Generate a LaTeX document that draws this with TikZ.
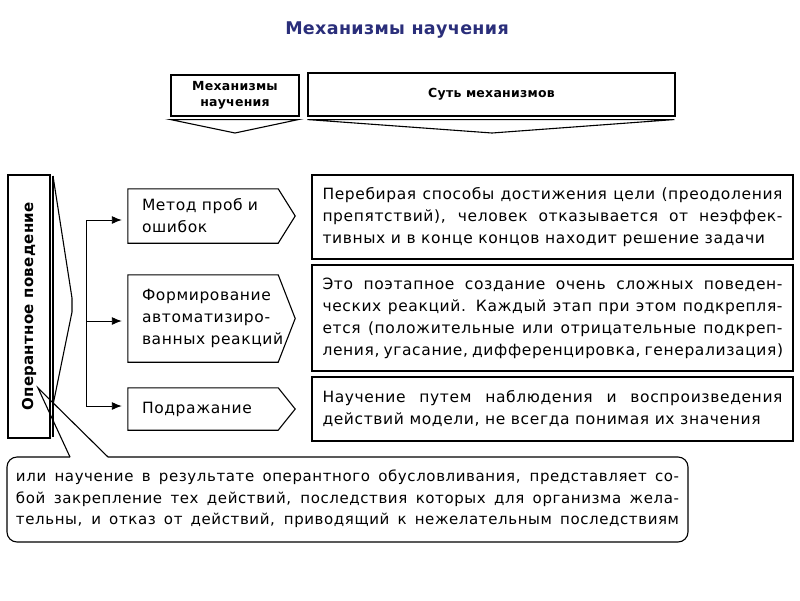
\documentclass[tikz,border=0pt]{standalone}
\usepackage{fontspec}
\setmainfont{DejaVu Sans}[LetterSpace=4]
\newfontfamily\headfont{DejaVu Sans}[LetterSpace=2]
\usetikzlibrary{arrows.meta,calc}
\definecolor{titleblue}{RGB}{42,46,122}
% justified lines of the text boxes
\newcommand\rline[1]{\makebox[460pt][s]{#1}}
\newcommand\bline[1]{\makebox[663pt][s]{#1}}
\tikzset{
  box/.style = {draw, line width=1.1pt},
  hdr/.style = {box, align=center, font=\headfont\bfseries\fontsize{12.5}{16.5}\selectfont},
  txt/.style = {align=left, inner sep=0pt, font=\fontsize{15.5}{22}\selectfont},
  midbox/.style = {txt, text width=122pt, inner xsep=14pt, minimum width=150pt},
  rbox/.style = {box, txt, inner xsep=10.5pt, minimum width=481pt},
  arr/.style = {-{Latex[length=10pt,width=8pt]}, line width=0.9pt}
}
\begin{document}
\begin{tikzpicture}[x=1pt, y=-1pt]
\fill[white] (0,0) rectangle (800,600);
\useasboundingbox (0,0) rectangle (800,600);

\node [font=\headfont\bfseries\fontsize{17.5}{22}\selectfont, text=titleblue] (title) at (397,30) {Механизмы научения};

% headers
\node [hdr, minimum width=128pt, minimum height=41pt] (h1) at (235,95.5) {Механизмы\\научения};
\node [hdr, minimum width=367pt, minimum height=43pt] (h2) at (491.5,94.5) {Суть механизмов};
\draw [line width=1.1pt] (h1.south west) ++(0,3) -- ++(128,0) -- (235,133) -- cycle;
\draw [line width=1.1pt] (h2.south west) ++(0,3) -- ++(367,0) -- (492,133) -- cycle;

% operant behaviour
\node [box, rotate=90, minimum width=263pt, minimum height=42pt, font=\headfont\bfseries\fontsize{15}{20}\selectfont] (op) at (29,306.5) {Оперантное поведение};
\draw [line width=1.1pt] (53,176) -- (53,437);
\draw [line width=1.1pt] (53,176) -- (72,298) -- (72,312) -- (53,405);

% mechanisms
\node [midbox, minimum height=54pt] (m1) at (203,216) {\mbox{Метод проб и}\\\mbox{ошибок}};
\node [midbox, minimum height=87pt] (m2) at (203,318.5) {\mbox{Формирование}\\\mbox{автоматизиро-}\\\mbox{ванных реакций}};
\node [midbox, minimum height=42pt] (m3) at (203,409) {\mbox{Подражание}};
\foreach \m in {m1,m2,m3}
  \draw [line width=1.1pt] (\m.north west) -- (\m.north east) -- ($(\m.east)+(17,0)$) -- (\m.south east) -- (\m.south west) -- cycle;

\coordinate (t1) at (86,220);
\coordinate (t2) at (86,321);
\coordinate (t3) at (86,406);
\draw [line width=0.9pt] (t1) -- (t3);
\foreach \i in {1,2,3}
  \draw [arr, shorten >=6pt] (t\i) -- (t\i -| m\i.west);

% essence of the mechanisms
\node [rbox, minimum height=84pt] (e1) at (552.5,217) {\rline{Перебирая способы достижения цели (преодоления}\\\rline{препятствий), человек отказывается от неэффек-}\\тивных и в конце концов находит решение задачи};
\node [rbox, minimum height=106pt] (e2) at (552.5,318) {\rline{Это поэтапное создание очень сложных поведен-}\\\rline{ческих реакций. Каждый этап при этом подкрепля-}\\\rline{ется (положительные или отрицательные подкреп-}\\\rline{ления, угасание, дифференцировка, генерализация)}};
\node [rbox, minimum height=64pt] (e3) at (552.5,409) {\rline{Научение путем наблюдения и воспроизведения}\\действий модели, не всегда понимая их значения};

% definition
\draw [line width=1.1pt, rounded corners=10pt] (108,457) -- (688,457) -- (688,542) -- (7,542) -- (7,457) -- (70,457);
\draw [line width=1.1pt] (70,457) -- (38,388) -- (108,457);
\node [txt, font=\fontsize{15}{21.5}\selectfont] (def) at (347.5,499) {\bline{или научение в результате оперантного обусловливания, представляет со-}\\\bline{бой закрепление тех действий, последствия которых для организма жела-}\\\bline{тельны, и отказ от действий, приводящий к нежелательным последствиям}};
\end{tikzpicture}
\end{document}
